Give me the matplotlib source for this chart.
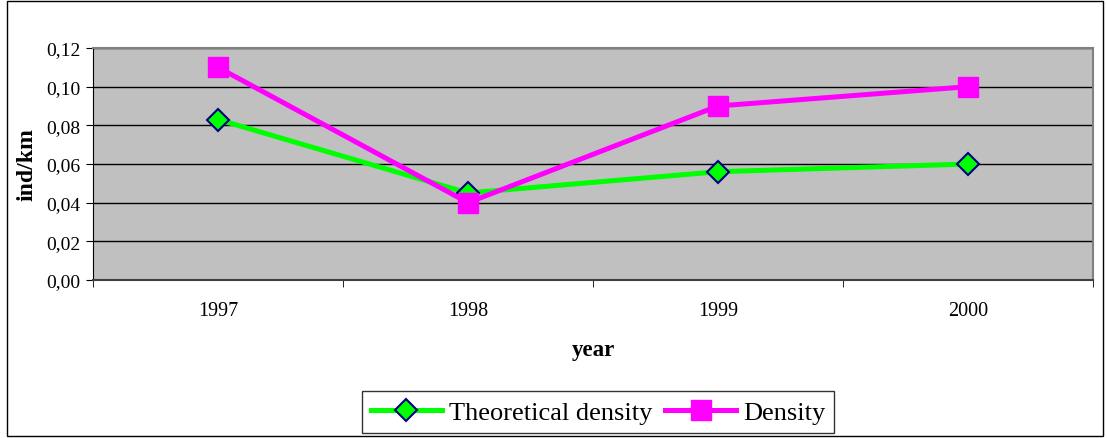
import matplotlib
matplotlib.use('Agg')
import matplotlib.pyplot as plt
from matplotlib.patches import Rectangle
from matplotlib.ticker import FuncFormatter

years = ['1997', '1998', '1999', '2000']
theoretical = [0.083, 0.045, 0.056, 0.060]
density = [0.110, 0.040, 0.090, 0.100]

plt.rcParams['font.family'] = ['Liberation Serif', 'DejaVu Serif']

fig = plt.figure(figsize=(11.07, 4.39), dpi=100)
ax = fig.add_axes([93 / 1107, 1 - 281 / 439, 1000 / 1107, 232 / 439])
ax.set_facecolor('#C0C0C0')

x = list(range(len(years)))
ax.plot(x, theoretical, color='#00FF00', lw=3.6, marker='D', ms=11,
        mfc='#00FF00', mec='#000080', mew=1.5, label='Theoretical density', zorder=3)
ax.plot(x, density, color='#FF00FF', lw=3.6, marker='s', ms=14,
        mfc='#FF00FF', mec='#FF00FF', label='Density', zorder=4)

ax.set_xlim(-0.5, len(years) - 0.5)
ax.set_ylim(0, 0.12)
ax.set_yticks([0, 0.02, 0.04, 0.06, 0.08, 0.10, 0.12])
ax.yaxis.set_major_formatter(FuncFormatter(lambda v, p: f'{v:.2f}'.replace('.', ',')))
ax.grid(axis='y', color='#000000', lw=1)
ax.set_axisbelow(True)

ax.set_xticks(x)
ax.set_xticklabels(years)
ax.set_xticks([i - 0.5 for i in range(len(years) + 1)], minor=True)
ax.tick_params(axis='x', which='major', length=0, pad=15, labelsize=14.5)
ax.tick_params(axis='x', which='minor', length=5, direction='out', color='#000000')
ax.tick_params(axis='y', length=5, direction='out', labelsize=14, pad=4)

for side in ['top', 'right']:
    ax.spines[side].set_color('#808080')
    ax.spines[side].set_linewidth(1.5)
ax.spines['left'].set_color('#000000')
ax.spines['bottom'].set_color('#404040')
ax.spines['bottom'].set_linewidth(1.5)

ax.set_xlabel('year', fontsize=16.5, fontweight='bold', labelpad=14)
ax.set_ylabel('ind/km', fontsize=17, fontweight='bold', labelpad=6)

leg = fig.legend(loc='center', bbox_to_anchor=(598 / 1107, 1 - 413 / 439), ncol=2,
                 frameon=True, fancybox=False, fontsize=19, handlelength=2.7,
                 columnspacing=0.5, handletextpad=0.25, borderpad=0.35,
                 borderaxespad=0.2, edgecolor='#000000')
leg.get_frame().set_linewidth(1)

fig.patches.append(Rectangle((7 / 1107, 2 / 439), 1096 / 1107, 435 / 439,
                             transform=fig.transFigure, fill=False,
                             edgecolor='#000000', lw=1))

fig.savefig('out.png', dpi=100)
